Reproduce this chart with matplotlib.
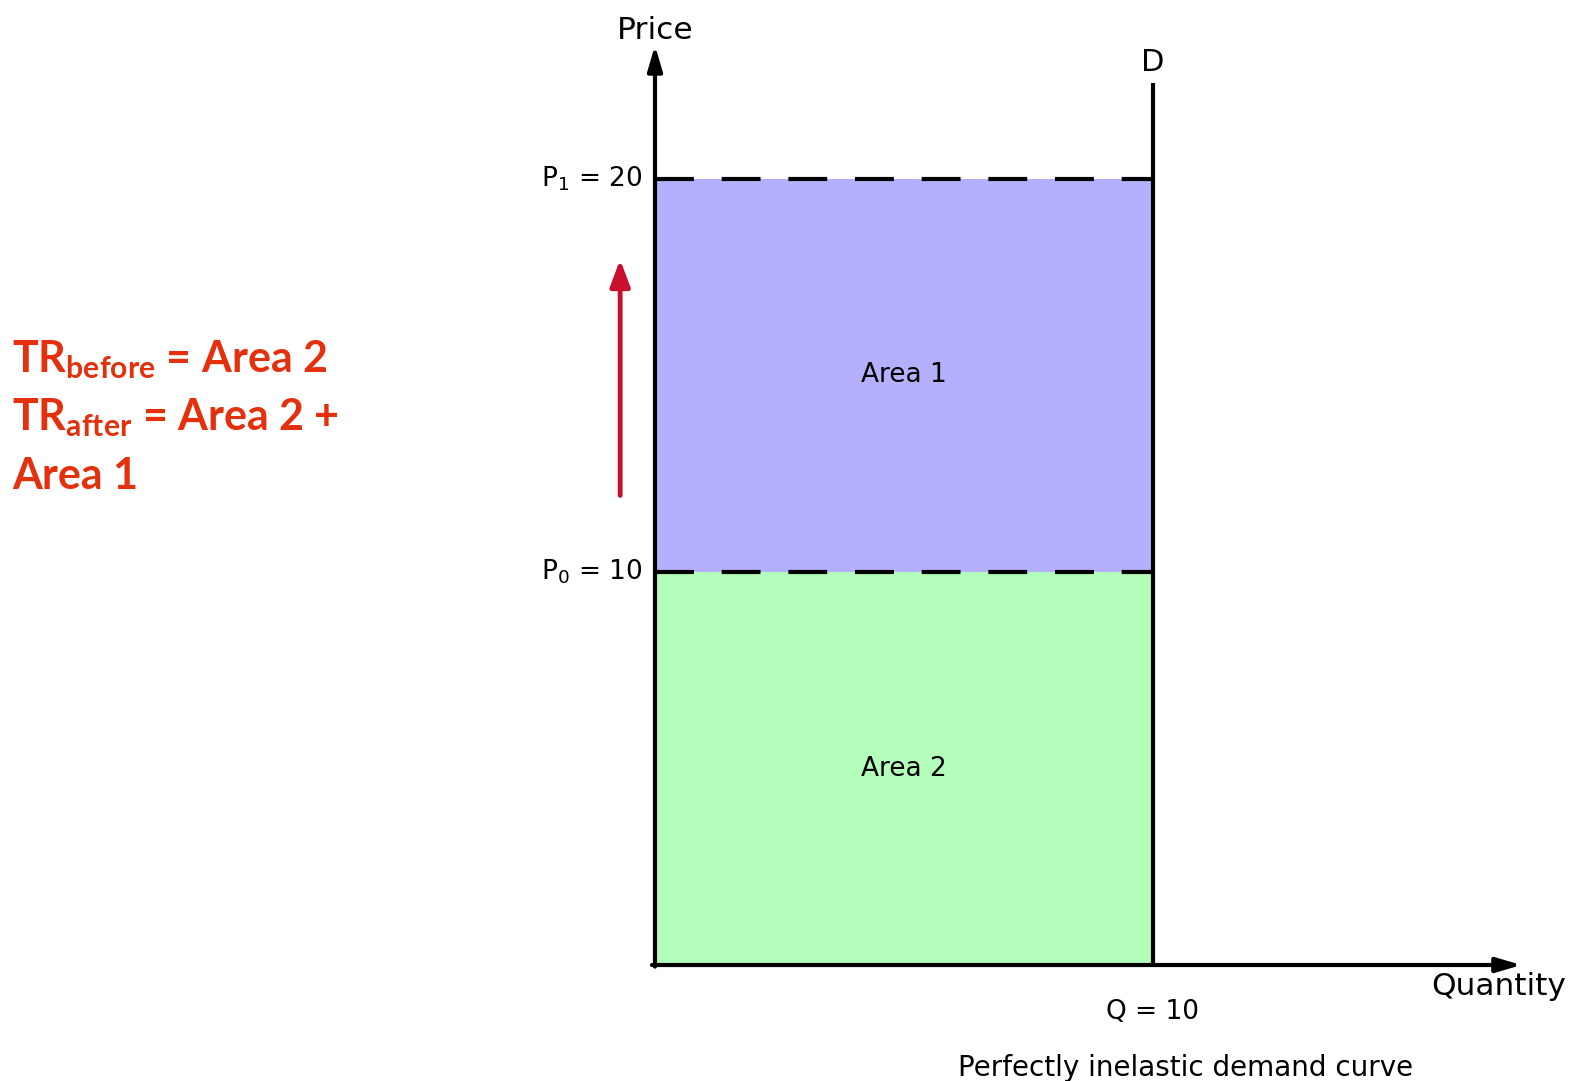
import matplotlib
matplotlib.use('Agg')
import matplotlib.pyplot as plt

# values
quantity = 10
price_before = 10   # P0
price_after = 20    # P1
price_labels = [r'P$\mathregular{_0}$ = 10', r'P$\mathregular{_1}$ = 20']
area_labels = ['Area 2', 'Area 1']
tr_lines = [r'TR$\mathbf{_{before}}$ = Area 2',
            r'TR$\mathbf{_{after}}$ = Area 2 +',
            'Area 1']

green = '#b3feba'
lavender = '#b4b0fe'
red_txt = '#e4300c'
red_arrow = '#c8102e'

plt.rcParams['font.family'] = ['DejaVu Sans']
plt.rcParams['mathtext.fontset'] = 'custom'
plt.rcParams['mathtext.rm'] = 'DejaVu Sans'
plt.rcParams['mathtext.bf'] = 'Lato:bold'
plt.rcParams['lines.scale_dashes'] = False

fig = plt.figure(figsize=(15.72, 10.81), dpi=100)
ax = fig.add_axes([0, 0, 1, 1])
# pixel scale: 49.8 px per unit of quantity, 39.3 px per unit of price
sx, sy = 49.8, 39.3
ax.set_xlim(-655 / sx, (1572 - 655) / sx)
ax.set_ylim(-(1081 - 965) / sy, 965 / sy)
ax.axis('off')

# shaded revenue areas
ax.fill_between([0, quantity], 0, price_before, color=green, lw=0)
ax.fill_between([0, quantity], price_before, price_after, color=lavender, lw=0)

# dashed price lines
for p in (price_before, price_after):
    ax.plot([0, quantity], [p, p], color='black', lw=3, dashes=(28, 20),
            solid_capstyle='butt')

# axes with arrow heads
y_top = 23.4
x_end = 17.4
arrow = dict(arrowstyle='-|>,head_length=0.75,head_width=0.22', lw=3,
             color='black', shrinkA=0, shrinkB=0, mutation_scale=20)
ax.annotate('', xy=(0, y_top), xytext=(0, -0.04), arrowprops=arrow)
ax.annotate('', xy=(x_end, 0), xytext=(-0.06, 0), arrowprops=arrow)

# vertical demand curve
ax.plot([quantity, quantity], [0, 22.45], color='black', lw=3,
        solid_capstyle='butt')

# red arrow showing the price rise
ax.annotate('', xy=(-0.7, price_after - 2.05), xytext=(-0.7, price_before + 1.95),
            arrowprops=dict(arrowstyle='-|>,head_length=0.8,head_width=0.3',
                            lw=3.5, color=red_arrow, shrinkA=0, shrinkB=0,
                            mutation_scale=20))

# labels
ax.text(0, y_top, 'Price', ha='center', va='bottom', fontsize=22.5)
ax.text(quantity, 22.6, 'D', ha='center', va='bottom', fontsize=22)
for p, lab in zip((price_before, price_after), price_labels):
    ax.text(-0.25, p, lab, ha='right', va='center', fontsize=19)
ax.text(quantity / 2, price_before / 2, area_labels[0], ha='center', va='center',
        fontsize=19)
ax.text(quantity / 2, (price_before + price_after) / 2, area_labels[1],
        ha='center', va='center', fontsize=19)
ax.text(quantity, -1.2, 'Q = 10', ha='center', va='center', fontsize=19)
ax.text(18.3, -0.55, 'Quantity', ha='right', va='center', fontsize=22.5)
ax.text(10.65, -2.63, 'Perfectly inelastic demand curve', ha='center',
        va='center', fontsize=20)

for i, line in enumerate(tr_lines):
    fig.text(12 / 1572, 1 - (360 + 58 * i) / 1081, line, ha='left',
             va='center', fontsize=31, fontweight='bold', color=red_txt,
             family='Lato')

fig.savefig('out.png', dpi=100)
